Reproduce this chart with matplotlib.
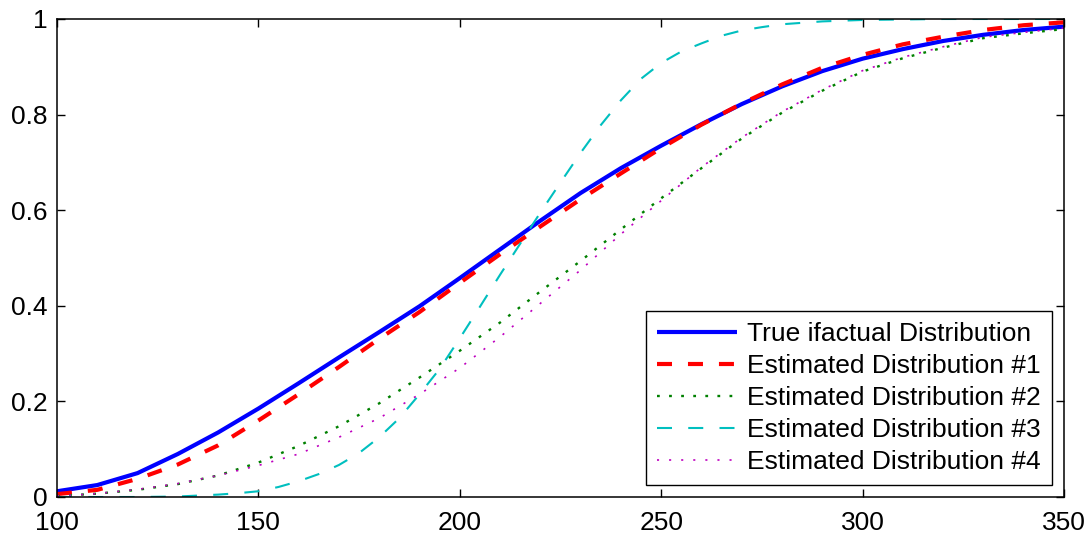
import matplotlib
matplotlib.use("Agg")
import matplotlib.pyplot as plt
from matplotlib.ticker import FixedLocator, FuncFormatter

plt.rcParams['font.family'] = ['Liberation Sans', 'DejaVu Sans']
plt.rcParams['lines.scale_dashes'] = False

x_vals = [100, 110, 120, 130, 140, 150, 160, 170, 180, 190, 200, 210, 220,
          230, 240, 250, 260, 270, 280, 290, 300, 310, 320, 330, 340, 350]

true_cdf = [0.012, 0.025, 0.050, 0.090, 0.135, 0.185, 0.238, 0.292, 0.345, 0.399,
            0.458, 0.518, 0.578, 0.636, 0.688, 0.735, 0.780, 0.822, 0.859, 0.891,
            0.917, 0.937, 0.954, 0.967, 0.977, 0.984]
est1 = [0.006, 0.015, 0.038, 0.068, 0.108, 0.160, 0.215, 0.272, 0.331, 0.387,
        0.448, 0.508, 0.566, 0.623, 0.677, 0.730, 0.779, 0.823, 0.863, 0.898,
        0.925, 0.947, 0.963, 0.977, 0.987, 0.993]
est2 = [0.002, 0.007, 0.015, 0.027, 0.045, 0.072, 0.107, 0.148, 0.196, 0.250,
        0.306, 0.365, 0.430, 0.494, 0.560, 0.625, 0.688, 0.750, 0.804, 0.850,
        0.890, 0.918, 0.940, 0.960, 0.970, 0.979]
est4 = [0.002, 0.007, 0.016, 0.028, 0.045, 0.066, 0.090, 0.125, 0.165, 0.215,
        0.270, 0.335, 0.405, 0.475, 0.550, 0.620, 0.690, 0.752, 0.806, 0.852,
        0.892, 0.920, 0.942, 0.962, 0.972, 0.981]

x_est3 = [100, 110, 120, 130, 140, 145, 150, 155, 160, 165, 170, 175, 180, 185,
          190, 195, 200, 205, 210, 215, 220, 225, 230, 235, 240, 245, 250, 255,
          260, 265, 270, 275, 280, 290, 300, 310, 320, 330, 340, 350]
est3 = [0.000, 0.000, 0.000, 0.001, 0.005, 0.008, 0.012, 0.021, 0.033, 0.048,
        0.067, 0.092, 0.125, 0.165, 0.215, 0.268, 0.332, 0.398, 0.465, 0.530,
        0.595, 0.658, 0.720, 0.778, 0.830, 0.875, 0.908, 0.932, 0.949, 0.965,
        0.976, 0.983, 0.989, 0.995, 0.998, 0.999, 1.000, 1.000, 1.000, 1.000]

labels = ["True ifactual Distribution", "Estimated Distribution #1",
          "Estimated Distribution #2", "Estimated Distribution #3",
          "Estimated Distribution #4"]
x_ticks = [100, 150, 200, 250, 300, 350]
y_ticks = [0, 0.2, 0.4, 0.6, 0.8, 1]

fig = plt.figure(figsize=(10.88, 5.35), dpi=100)
ax = fig.add_axes([57/1088, 38/535, (1064-57)/1088, (497-19)/535])

ax.plot(x_vals, true_cdf, color=(0, 0, 1), lw=3.0, solid_capstyle='butt', label=labels[0])
ax.plot(x_vals, est1, color=(1, 0, 0), lw=3.0, dashes=(10.8, 11.5), dash_capstyle='butt', label=labels[1])
ax.plot(x_vals, est2, color=(0, 0.5, 0), lw=1.7, dashes=(2.0, 6.7), dash_capstyle='butt', label=labels[2])
ax.plot(x_est3, est3, color=(0, 0.75, 0.75), lw=1.5, dashes=(10.8, 11.7), dash_capstyle='butt', label=labels[3])
ax.plot(x_vals, est4, color=(0.75, 0, 0.75), lw=1.2, dashes=(1.5, 7.2), dash_capstyle='butt', label=labels[4])

ax.set_xlim(100, 350)
ax.set_ylim(0, 1)
ax.xaxis.set_major_locator(FixedLocator(x_ticks))
ax.yaxis.set_major_locator(FixedLocator(y_ticks))
ax.xaxis.set_major_formatter(FuncFormatter(lambda v, p: "%g" % v))
ax.yaxis.set_major_formatter(FuncFormatter(lambda v, p: "%g" % v))
ax.tick_params(direction='in', length=6, width=1, top=True, right=True,
               labelsize=19)
ax.tick_params(axis='y', pad=7)
ax.tick_params(axis='x', pad=10)
for s in ax.spines.values():
    s.set_linewidth(1.1)

leg = ax.legend(loc='lower right', bbox_to_anchor=(0.988, 0.025), fontsize=19,
                frameon=True, fancybox=False, shadow=False, framealpha=1,
                edgecolor='black', handlelength=3.0, handletextpad=0.4,
                labelspacing=0.3, borderpad=0.42, borderaxespad=0)
leg.get_frame().set_linewidth(1.0)

fig.savefig("out.png", dpi=100)
